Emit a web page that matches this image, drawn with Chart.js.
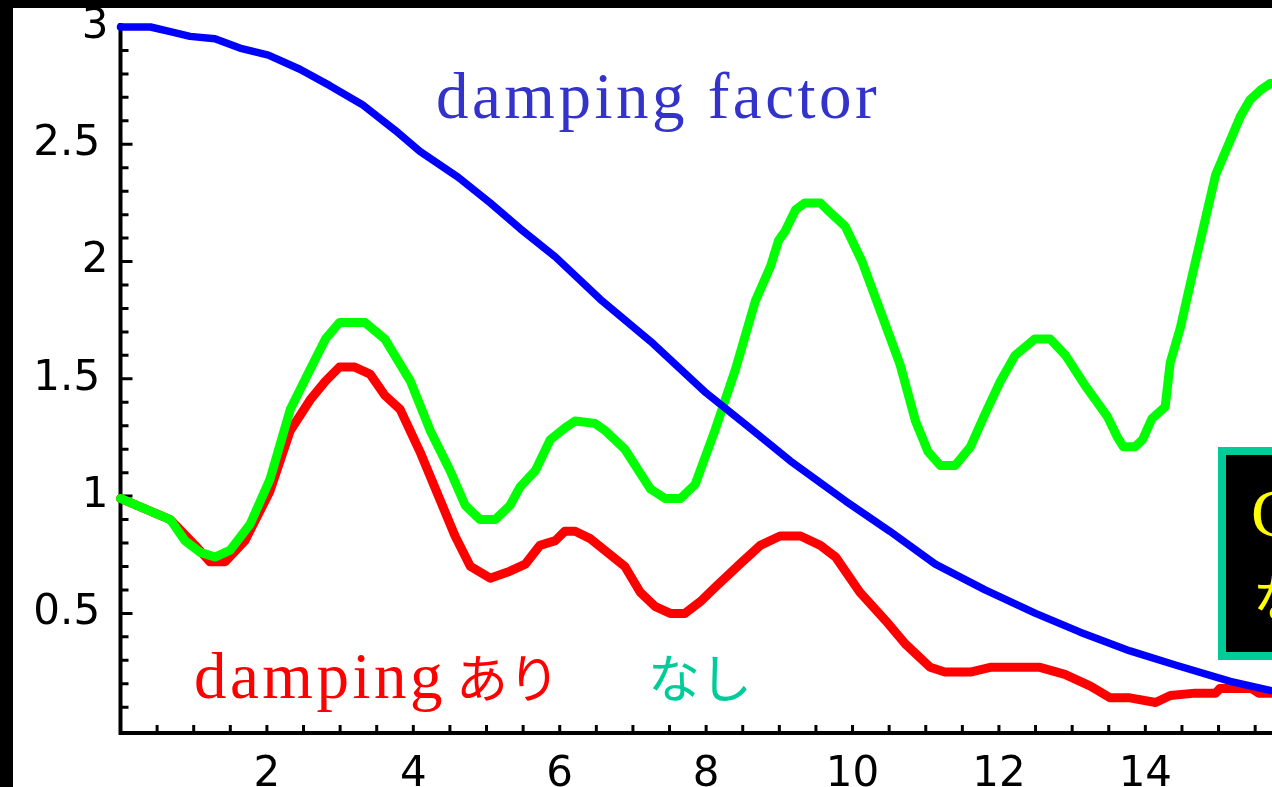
<!DOCTYPE html>
<html>
<head>
<meta charset="utf-8">
<script src="https://cdn.jsdelivr.net/npm/chart.js@4.4.0/dist/chart.umd.min.js"></script>
<style>
html, body { margin: 0; padding: 0; background: #fff; overflow: hidden; width: 1272px; height: 787px; }
#wrap { position: relative; width: 1272px; height: 787px; overflow: hidden; }
#c { position: absolute; left: 0; top: 0; }
.bar { position: absolute; background: #000; }
</style>
</head>
<body>
<div id="wrap">
  <canvas id="c" width="1272" height="800"></canvas>
  <div class="bar" style="left:0;top:0;width:1272px;height:8px"></div>
  <div class="bar" style="left:0;top:0;width:13px;height:787px"></div>
</div>
<script>
// damping factor (blue)
const factorX = [0, 0.41, 0.68, 0.95, 1.29, 1.63, 2.02, 2.45, 2.86, 3.30, 3.75, 4.09, 4.61, 5.05, 5.46, 5.94,
  6.55, 7.24, 8.0, 8.6, 9.15, 9.9, 10.51, 11.13, 11.81, 12.5, 13.11, 13.79, 14.41, 15.16, 15.73];
const factorY = [3.0, 3.0, 2.98, 2.96, 2.95, 2.91, 2.88, 2.82, 2.75, 2.67, 2.56, 2.47, 2.36, 2.25, 2.14, 2.02,
  1.84, 1.66, 1.44, 1.29, 1.15, 0.98, 0.85, 0.71, 0.60, 0.50, 0.42, 0.34, 0.28, 0.21, 0.17];

// damping あり (red)
const dampX = [0, 0.68, 1.02, 1.22, 1.43, 1.70, 2.04, 2.32, 2.59, 2.80, 2.99, 3.20, 3.41, 3.61, 3.82, 4.09,
  4.37, 4.57, 4.78, 5.05, 5.32, 5.53, 5.73, 5.94, 6.07, 6.21, 6.41, 6.69, 6.89, 7.10, 7.30, 7.51, 7.71, 7.92,
  8.12, 8.46, 8.74, 9.01, 9.29, 9.56, 9.77, 10.10, 10.45, 10.72, 11.06, 11.26, 11.61, 11.88, 12.56, 12.90,
  13.25, 13.52, 13.79, 14.14, 14.34, 14.68, 14.96, 15.02, 15.45, 15.55, 15.73];
const dampY = [0.99, 0.90, 0.79, 0.72, 0.72, 0.81, 1.02, 1.28, 1.41, 1.49, 1.55, 1.55, 1.52, 1.43, 1.37, 1.19,
  0.98, 0.83, 0.70, 0.65, 0.68, 0.71, 0.79, 0.81, 0.85, 0.85, 0.82, 0.75, 0.70, 0.59, 0.53, 0.50, 0.50, 0.55,
  0.61, 0.71, 0.79, 0.83, 0.83, 0.79, 0.74, 0.59, 0.47, 0.37, 0.27, 0.25, 0.25, 0.27, 0.27, 0.24,
  0.19, 0.14, 0.14, 0.12, 0.15, 0.16, 0.16, 0.18, 0.18, 0.16, 0.16];

// なし (green)
const freeX = [0, 0.68, 0.88, 1.09, 1.29, 1.50, 1.77, 2.04, 2.32, 2.59, 2.80, 2.99, 3.34, 3.61, 3.96, 4.23,
  4.50, 4.71, 4.91, 5.12, 5.32, 5.46, 5.67, 5.87, 6.07, 6.21, 6.48, 6.62, 6.89, 7.24, 7.44, 7.65, 7.85,
  8.12, 8.40, 8.67, 8.88, 8.99, 9.08, 9.22, 9.35, 9.56, 9.69, 9.90, 10.13, 10.45, 10.65, 10.86, 11.03,
  11.20, 11.40, 11.61, 11.81, 12.02, 12.22, 12.49, 12.70, 12.91, 13.18, 13.48, 13.62, 13.70, 13.86, 13.96,
  14.09, 14.27, 14.34, 14.48, 14.61, 14.96, 15.30, 15.43, 15.57, 15.71];
const freeY = [0.99, 0.90, 0.81, 0.76, 0.74, 0.77, 0.88, 1.07, 1.37, 1.54, 1.67, 1.74, 1.74, 1.67, 1.49, 1.28,
  1.11, 0.96, 0.90, 0.90, 0.96, 1.04, 1.11, 1.24, 1.29, 1.32, 1.31, 1.28, 1.20, 1.03, 0.99, 0.99, 1.05,
  1.28, 1.54, 1.83, 1.98, 2.09, 2.13, 2.22, 2.25, 2.25, 2.21, 2.15, 2.00, 1.73, 1.56, 1.32, 1.19,
  1.13, 1.13, 1.21, 1.35, 1.49, 1.60, 1.67, 1.67, 1.60, 1.47, 1.34, 1.25, 1.21, 1.21, 1.24,
  1.33, 1.38, 1.57, 1.72, 1.90, 2.37, 2.62, 2.69, 2.73, 2.76];

const xLabels = [2, 4, 6, 8, 10, 12, 14];
const yLabels = [0.5, 1, 1.5, 2, 2.5, 3];

function pts(xs, ys) {
  return xs.map((x, i) => ({x: x, y: ys[i]}));
}

function line(data, color, width) {
  return {
    data: data,
    showLine: true,
    borderColor: color,
    borderWidth: width,
    pointRadius: 0,
    borderJoinStyle: 'round',
    borderCapStyle: 'round',
    tension: 0,
    clip: false
  };
}

// inward tick marks and the axis lines
const axisPlugin = {
  id: 'axisMarks',
  beforeDatasetsDraw(chart) {
    const {ctx, chartArea: a, scales: {x, y}} = chart;
    ctx.save();
    ctx.strokeStyle = '#000';
    ctx.lineWidth = 4;
    ctx.beginPath();
    ctx.moveTo(a.left, a.top - 4);
    ctx.lineTo(a.left, a.bottom);
    ctx.lineTo(a.right + 4, a.bottom);
    ctx.stroke();
    ctx.lineWidth = 3;
    ctx.beginPath();
    for (let i = 1; i <= 30; i++) {
      const py = y.getPixelForValue(i / 10);
      ctx.moveTo(a.left, py);
      ctx.lineTo(a.left + (i % 5 === 0 ? 12 : 8), py);
    }
    for (let i = 1; i <= 31; i++) {
      const px = x.getPixelForValue(i / 2);
      ctx.moveTo(px, a.bottom);
      ctx.lineTo(px, a.bottom - 8);
    }
    ctx.stroke();
    ctx.restore();
  }
};

// text labels and the box at the right edge
const notePlugin = {
  id: 'notes',
  afterDraw(chart) {
    const ctx = chart.ctx;
    ctx.save();
    ctx.textBaseline = 'alphabetic';
    ctx.textAlign = 'left';
    ctx.letterSpacing = '3.5px';
    ctx.font = "65px 'Liberation Serif'";
    ctx.fillStyle = '#3333cc';
    ctx.fillText('damping factor', 436, 118);
    ctx.fillStyle = '#ff0000';
    ctx.fillText('damping', 194, 698);
    ctx.letterSpacing = '0px';
    ctx.font = "52px 'Noto Sans CJK JP'";
    ctx.fillText('あり', 456, 698);
    ctx.fillStyle = '#00cc99';
    ctx.fillText('なし', 648, 698);

    ctx.fillStyle = '#00cc99';
    ctx.fillRect(1218, 447, 100, 213);
    ctx.fillStyle = '#000';
    ctx.fillRect(1226, 455, 100, 197);
    ctx.fillStyle = '#ffff00';
    ctx.font = "68px 'Liberation Serif'";
    ctx.fillText('Gain', 1251, 536);
    ctx.font = "52px 'Noto Sans CJK JP'";
    ctx.fillText('なし', 1253, 618);
    ctx.restore();
  }
};

const tickFont = {family: "'DejaVu Sans'", size: 42};

new Chart(document.getElementById('c'), {
  type: 'scatter',
  data: {
    datasets: [
      line(pts(factorX, factorY), '#0000ff', 7.5),
      line(pts(freeX, freeY), '#00ff00', 9),
      line(pts(dampX, dampY), '#ff0000', 9)
    ]
  },
  options: {
    responsive: false,
    animation: false,
    devicePixelRatio: 1,
    layout: {padding: {top: 27, left: 0, right: 0, bottom: 0}},
    plugins: {legend: {display: false}, tooltip: {enabled: false}},
    scales: {
      x: {
        type: 'linear',
        min: 0,
        max: 15.73,
        border: {display: false},
        grid: {display: false, drawTicks: false},
        afterBuildTicks(s) { s.ticks = xLabels.map(v => ({value: v})); },
        ticks: {
          autoSkip: false,
          maxRotation: 0,
          padding: 17,
          color: '#000',
          font: tickFont,
          callback: v => String(v)
        },
        afterFit(s) { s.height = 67; s.paddingLeft = 0; s.paddingRight = 0; }
      },
      y: {
        type: 'linear',
        min: -0.01,
        max: 3,
        border: {display: false},
        grid: {display: false, drawTicks: false},
        afterBuildTicks(s) { s.ticks = yLabels.map(v => ({value: v})); },
        ticks: {
          autoSkip: false,
          padding: 12,
          color: '#000',
          font: tickFont,
          callback: v => Number.isInteger(v) ? String(v) : v + '\u2009'
        },
        afterFit(s) { s.width = 120.5; s.paddingTop = 0; s.paddingBottom = 0; }
      }
    }
  },
  plugins: [axisPlugin, notePlugin]
});
</script>
</body>
</html>
